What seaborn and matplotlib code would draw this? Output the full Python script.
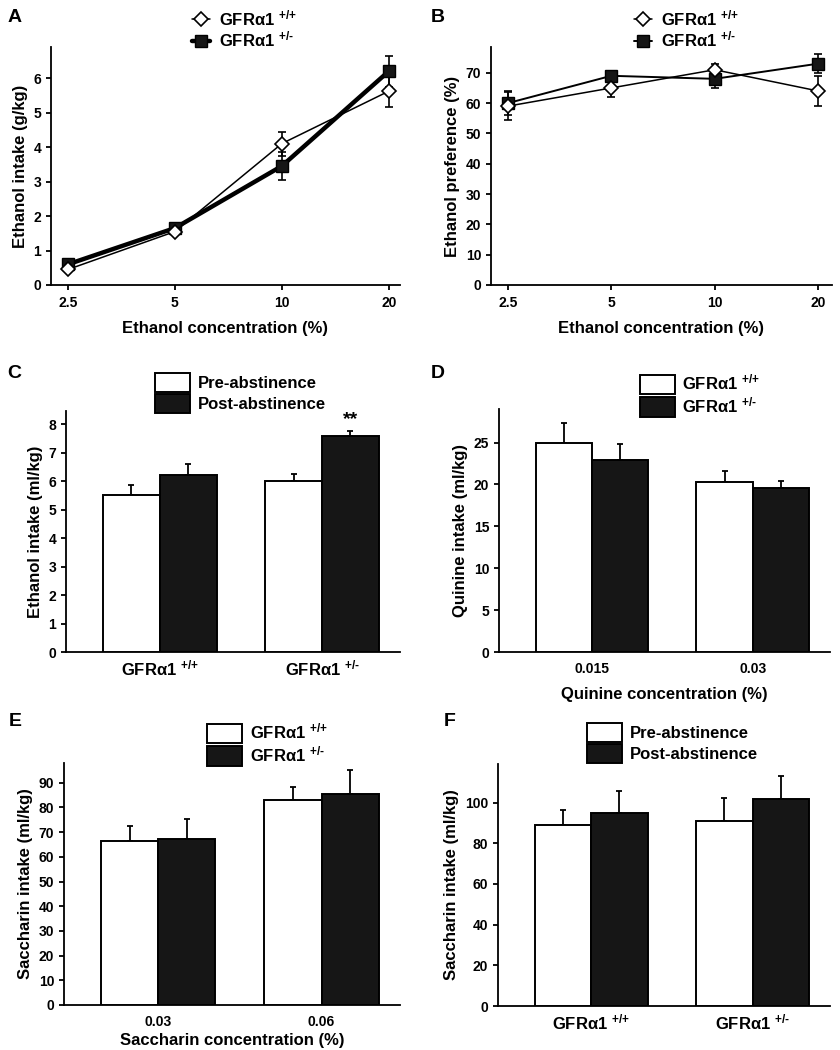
import matplotlib
matplotlib.use('Agg')
import matplotlib.pyplot as plt
from matplotlib.ticker import NullLocator
import seaborn as sns
import pandas as pd

# ---- data ----
conc = [2.5, 5, 10, 20]
conc_labels = ['2.5', '5', '10', '20']

intake_wt = [0.45, 1.55, 4.1, 5.62]
intake_wt_sem = [0.05, 0.1, 0.35, 0.45]
intake_het = [0.6, 1.65, 3.45, 6.2]
intake_het_sem = [0.05, 0.1, 0.4, 0.45]

pref_wt = [59, 65, 71, 64]
pref_wt_sem = [4.5, 3, 2, 5]
pref_het = [60, 69, 68, 73]
pref_het_sem = [4, 1.5, 3, 3.2]

geno = [r'GFRα1 $^{\text{+/+}}$', r'GFRα1 $^{\text{+/-}}$']
phase = ['Pre-abstinence', 'Post-abstinence']

eth_pre = [5.5, 6.0]
eth_pre_sem = [0.36, 0.24]
eth_post = [6.2, 7.57]
eth_post_sem = [0.41, 0.2]

quin_conc = ['0.015', '0.03']
quin_wt = [24.9, 20.3]
quin_wt_sem = [2.4, 1.35]
quin_het = [22.9, 19.6]
quin_het_sem = [1.9, 0.85]

sacc_conc = ['0.03', '0.06']
sacc_wt = [66.3, 83.0]
sacc_wt_sem = [6.3, 5.1]
sacc_het = [67.3, 85.3]
sacc_het_sem = [8.0, 9.9]

sacc_pre = [88.9, 91.1]
sacc_pre_sem = [7.7, 11.3]
sacc_post = [94.8, 101.9]
sacc_post_sem = [11.1, 11.2]

# ---- style ----
sns.set_style('ticks')
plt.rcParams['font.family'] = ['Liberation Sans', 'DejaVu Sans']
plt.rcParams['font.weight'] = 'bold'
plt.rcParams['axes.labelweight'] = 'bold'
plt.rcParams['mathtext.fontset'] = 'custom'
plt.rcParams['mathtext.rm'] = 'Liberation Sans:bold'
plt.rcParams['mathtext.bf'] = 'Liberation Sans:bold'
plt.rcParams['mathtext.it'] = 'Liberation Sans:bold'
plt.rcParams['axes.linewidth'] = 1.3
plt.rcParams['xtick.major.width'] = 1.3
plt.rcParams['ytick.major.width'] = 1.3
plt.rcParams['xtick.major.size'] = 3.5
plt.rcParams['ytick.major.size'] = 3.5
plt.rcParams['xtick.labelsize'] = 10
plt.rcParams['ytick.labelsize'] = 10
plt.rcParams['axes.labelsize'] = 12
plt.rcParams['axes.edgecolor'] = 'black'
plt.rcParams['xtick.color'] = 'black'
plt.rcParams['ytick.color'] = 'black'
plt.rcParams['text.color'] = 'black'
plt.rcParams['axes.labelcolor'] = 'black'

W, H = 840, 1050
fig = plt.figure(figsize=(8.4, 10.5), dpi=100)


def box(l, r, t, b):
    return [l / W, (H - b) / H, (r - l) / W, (b - t) / H]


BLACK = '#161616'


def line_panel(ax, wt, wt_sem, het, het_sem, het_lw, xlim, ylim, yticks, ylabel):
    ax.errorbar(conc, wt, yerr=wt_sem, fmt='none', ecolor='black',
                elinewidth=1.2, capsize=3, capthick=1.2, zorder=2)
    ax.errorbar(conc, het, yerr=het_sem, fmt='none', ecolor='black',
                elinewidth=1.2, capsize=3, capthick=1.2, zorder=2)
    sns.lineplot(x=conc, y=wt, color='black', lw=1.1, marker='D', ms=7,
                 markerfacecolor='white', markeredgecolor='black',
                 markeredgewidth=1.2, label=geno[0], ax=ax, zorder=4)
    sns.lineplot(x=conc, y=het, color='black', lw=het_lw, marker='s', ms=8.5,
                 markerfacecolor=BLACK, markeredgecolor='black',
                 markeredgewidth=1, label=geno[1], ax=ax, zorder=3)
    ax.set_xscale('log')
    ax.xaxis.set_minor_locator(NullLocator())
    ax.set_xticks(conc)
    ax.set_xticklabels(conc_labels)
    ax.set_xlim(*xlim)
    ax.set_ylim(*ylim)
    ax.set_yticks(yticks)
    ax.tick_params(axis='x', pad=4.5)
    ax.set_xlabel('Ethanol concentration (%)', labelpad=8)
    ax.set_ylabel(ylabel)
    sns.despine(ax=ax)


def bar_panel(ax, cats, names, v1, s1, v2, s2, ylim, yticks, ylabel, xlabel,
              lpad=8):
    df = pd.DataFrame({
        'cat': cats + cats,
        'grp': [names[0]] * len(cats) + [names[1]] * len(cats),
        'val': v1 + v2,
    })
    sns.barplot(data=df, x='cat', y='val', hue='grp', order=cats,
                hue_order=names, palette=['white', BLACK], edgecolor='black',
                linewidth=1.4, width=0.7, gap=0, errorbar=None, ax=ax,
                zorder=3)
    for cont, sems in zip(ax.containers, [s1, s2]):
        for bar, s in zip(cont, sems):
            xc = bar.get_x() + bar.get_width() / 2
            top = bar.get_height()
            ax.errorbar([xc], [top], yerr=[[0], [s]], fmt='none',
                        ecolor='black', elinewidth=1.3, capsize=2.5,
                        capthick=1.3, zorder=2)
    ax.set_xlim(-0.577, 1.48)
    ax.set_ylim(*ylim)
    ax.set_yticks(yticks)
    ax.set_ylabel(ylabel)
    ax.set_xlabel(xlabel, labelpad=lpad)
    ax.tick_params(axis='x', length=0, pad=7)
    sns.despine(ax=ax)


def legend(ax, x, y, bars=True):
    h, l = ax.get_legend_handles_labels()
    if bars:
        ax.legend(h, l, loc='upper left', bbox_to_anchor=(x / W, 1 - y / H),
                  bbox_transform=fig.transFigure, frameon=False, fontsize=12,
                  handlelength=2.1, handleheight=1.4, labelspacing=0.1,
                  handletextpad=0.45, borderpad=0, borderaxespad=0)
    else:
        ax.legend(h, l, loc='upper left', bbox_to_anchor=(x / W, 1 - y / H),
                  bbox_transform=fig.transFigure, frameon=False, fontsize=12,
                  handlelength=1.1, labelspacing=0.1, handletextpad=0.5,
                  borderpad=0, borderaxespad=0)


# A
axA = fig.add_axes(box(51, 400, 47, 285))
line_panel(axA, intake_wt, intake_wt_sem, intake_het, intake_het_sem, 3.2,
           (2.24, 21.5), (0, 6.9), range(0, 7), 'Ethanol intake (g/kg)')
legend(axA, 192, 8, bars=False)

# B
axB = fig.add_axes(box(491, 832, 47, 285))
line_panel(axB, pref_wt, pref_wt_sem, pref_het, pref_het_sem, 1.4,
           (2.23, 21.96), (0, 78.5), range(0, 71, 10), 'Ethanol preference (%)')
legend(axB, 634, 8, bars=False)

# C
axC = fig.add_axes(box(66, 400, 411, 652))
bar_panel(axC, geno, phase, eth_pre, eth_pre_sem, eth_post, eth_post_sem,
          (0, 8.46), range(0, 9), 'Ethanol intake (ml/kg)', '')
axC.tick_params(axis='x', labelsize=12, pad=5)
axC.text(1.175, eth_post[1] + eth_post_sem[1] + 0.1, '**', ha='center',
         va='bottom', fontsize=14, fontweight='bold')
legend(axC, 155, 373)

# D
axD = fig.add_axes(box(499, 830, 409, 652))
bar_panel(axD, quin_conc, geno, quin_wt, quin_wt_sem, quin_het, quin_het_sem,
          (0, 29), range(0, 26, 5), 'Quinine intake (ml/kg)',
          'Quinine concentration (%)')
legend(axD, 640, 373)

# E
axE = fig.add_axes(box(64, 400, 763, 1005))
bar_panel(axE, sacc_conc, geno, sacc_wt, sacc_wt_sem, sacc_het, sacc_het_sem,
          (0, 98), range(0, 91, 10), 'Saccharin intake (ml/kg)',
          'Saccharin concentration (%)', lpad=3)
legend(axE, 207, 722)

# F
axF = fig.add_axes(box(498, 830, 764, 1006))
bar_panel(axF, geno, phase, sacc_pre, sacc_pre_sem, sacc_post, sacc_post_sem,
          (0, 119), range(0, 101, 20), 'Saccharin intake (ml/kg)', '')
axF.tick_params(axis='x', labelsize=12, pad=5)
legend(axF, 587, 723)

for letter, x, y in [('A', 15, 18), ('B', 438, 18), ('C', 14, 373),
                     ('D', 438, 373), ('E', 15, 722), ('F', 450, 722)]:
    fig.text(x / W, 1 - y / H, letter, fontsize=14, fontweight='bold',
             ha='center', va='center')

fig.savefig('out.png', dpi=100)
